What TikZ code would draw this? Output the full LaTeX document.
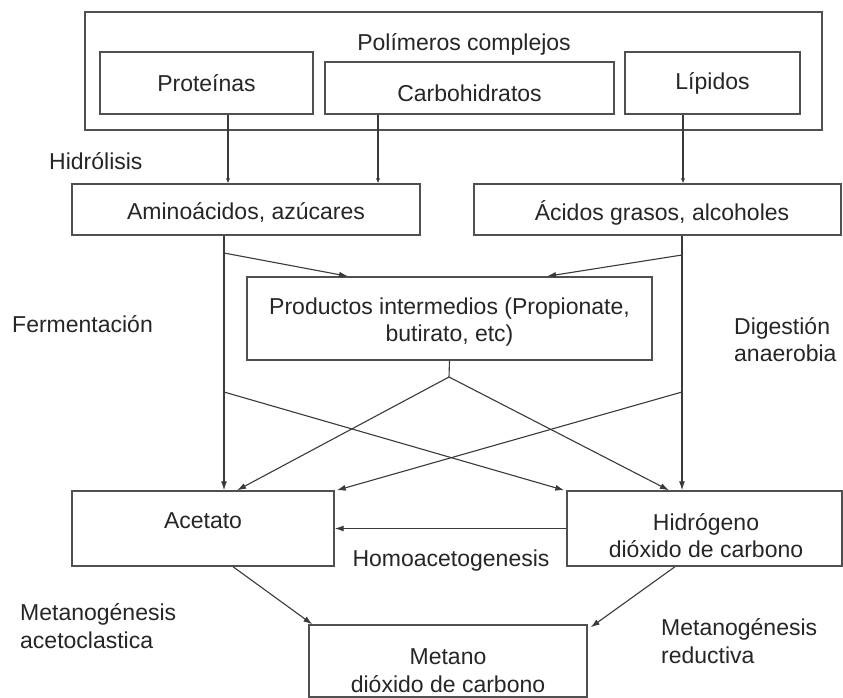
\documentclass[tikz,border=0pt]{standalone}
\usepackage{fontspec}
\setmainfont{Liberation Sans}
\usetikzlibrary{arrows.meta}
\definecolor{linegray}{HTML}{3A3A3A}
\definecolor{boxgray}{HTML}{505050}
\begin{document}
\begin{tikzpicture}[x=1pt,y=-1pt,
  every node/.style={font=\fontsize{23}{27.5}\selectfont, text=black!85},
  pbox/.style={draw=boxgray, line width=1.4pt, inner sep=0pt},
  lbl/.style={align=left, anchor=west, inner sep=0pt},
  conn/.style={draw=linegray, line width=1.1pt},
  arr/.style={conn, -{Latex[length=9pt,width=6pt]}},
  harr/.style={conn, -{Latex[length=5pt,width=4.5pt]}}]
\useasboundingbox (0,0) rectangle (843,698);
\fill[white] (0,0) rectangle (843,698);
% boxes
\node[pbox, minimum width=737pt, minimum height=118pt] (outer) at (453.5,71) {};
\node[inner sep=0pt] (polt) at (464,44) {Polímeros complejos};
\node[pbox, minimum width=213pt, minimum height=62pt] (prot) at (206.5,83) {Proteínas};
\node[pbox, minimum width=289pt, minimum height=52pt] (carb) at (469.5,88) {};
\node[inner sep=0pt] (carbt) at (469.5,93) {Carbohidratos};
\node[pbox, minimum width=175pt, minimum height=62pt] (lip) at (712.5,83) {Lípidos};
\node[pbox, minimum width=348pt, minimum height=51pt] (amino) at (246,209.5) {};
\node[inner sep=0pt] (aminot) at (246,213) {Aminoácidos, azúcares};
\node[pbox, minimum width=367pt, minimum height=51pt] (acidos) at (657.5,209.5) {};
\node[inner sep=0pt] (acidost) at (662,213) {Ácidos grasos, alcoholes};
\node[pbox, minimum width=405pt, minimum height=83pt] (prod) at (449.5,318.5) {};
\node[inner sep=0pt, align=center] (prodt) at (449.5,322) {Productos intermedios (Propionate,\\butirato, etc)};
\node[pbox, minimum width=262pt, minimum height=75pt] (acet) at (203,528.5) {};
\node[inner sep=0pt] (acett) at (203,521) {Acetato};
\node[pbox, minimum width=275pt, minimum height=75pt] (hid) at (704.5,528.5) {};
\node[inner sep=0pt, align=center] (hidt) at (706,535.5) {Hidrógeno\\dióxido de carbono};
\node[pbox, minimum width=278pt, minimum height=72pt] (met) at (448,661) {};
\node[inner sep=0pt, align=center] (mett) at (448,670.5) {Metano\\dióxido de carbono};
% labels
\node[lbl] (hidro) at (49,161) {Hidrólisis};
\node[lbl] (ferm) at (12,324) {Fermentación};
\node[lbl] (dig) at (734,339.5) {Digestión\\anaerobia};
\node[inner sep=0pt] (homo) at (451,561) {Homoacetogenesis};
\node[lbl] (macet) at (20,626) {Metanogénesis\\acetoclastica};
\node[lbl] (mred) at (661,641) {Metanogénesis\\reductiva};
% hydrolysis arrows
\draw[harr] ([xshift=21.5pt]prot.south) -- ([xshift=21.5pt]prot.south |- amino.north);
\draw[harr] ([xshift=-91.5pt]carb.south) -- ([xshift=-91.5pt]carb.south |- amino.north);
\draw[harr] ([xshift=-29.5pt]lip.south) -- ([xshift=-29.5pt]lip.south |- acidos.north);
% main verticals
\draw[arr] ([xshift=-22pt]amino.south) -- ([xshift=-22pt]amino.south |- acet.north);
\draw[arr] ([xshift=24.5pt]acidos.south) -- ([xshift=24.5pt]acidos.south |- hid.north);
% branch coordinates
\coordinate (la) at (224,253);
\coordinate (ra) at (682,255);
\coordinate (lb) at (224,392);
\coordinate (rb) at (682,392);
\coordinate (ps) at (449,377);
\draw[arr] (la) -- ([xshift=-101.5pt]prod.north);
\draw[arr] (ra) -- ([xshift=97.5pt]prod.north);
\draw[conn] (prod.south) -- (ps);
\draw[arr] (ps) -- ([xshift=34pt]acet.north);
\draw[arr] (ps) -- ([xshift=-35.5pt]hid.north);
\draw[arr] (lb) -- ([xshift=-2pt]hid.north west);
\draw[arr] (rb) -- ([xshift=2pt]acet.north east);
% homoacetogenesis
\draw[arr] (hid.west) -- (acet.east);
% methanogenesis
\draw[arr] ([xshift=30pt]acet.south) -- ([xshift=4pt]met.north west);
\draw[arr] ([xshift=-29.5pt]hid.south) -- ([xshift=3pt,yshift=-3pt]met.north east);
\end{tikzpicture}
\end{document}
